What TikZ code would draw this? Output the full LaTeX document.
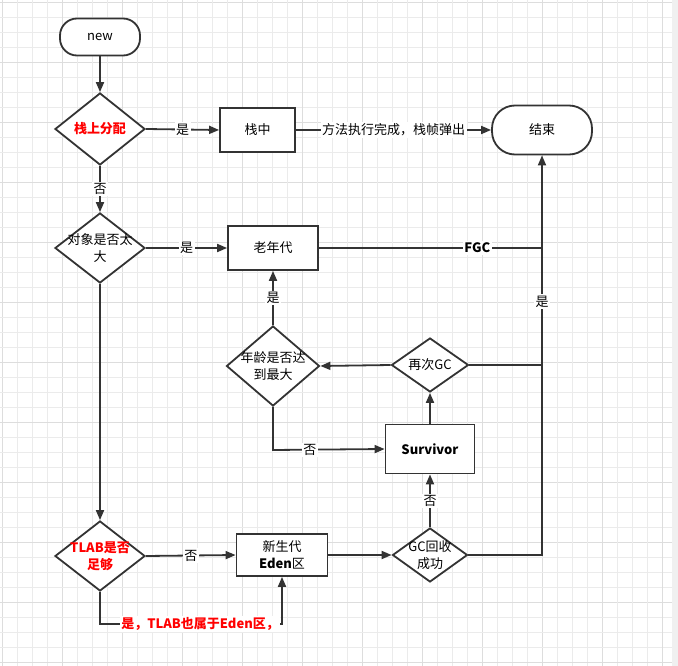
\documentclass[tikz,border=0pt]{standalone}
\usepackage{fontspec}
\setmainfont{Noto Sans CJK SC}
\usetikzlibrary{shapes.geometric,arrows.meta}
\definecolor{lc}{HTML}{333333}
\definecolor{gridc}{HTML}{EBEBEB}
\definecolor{gridd}{HTML}{DDDDDD}
\definecolor{stripc}{HTML}{F0F0F0}
\definecolor{redc}{HTML}{FF0000}
\tikzset{
  fs/.style={font=\fontsize{13}{17}\selectfont},
  shapebase/.style={draw=lc, line width=1.8pt, fill=white, fs, text=black, align=center},
  term/.style={shapebase, rectangle, rounded corners=17pt, minimum width=80pt, minimum height=37pt, inner sep=0pt},
  boxnode/.style 2 args={shapebase, rectangle, minimum width=#1pt, minimum height=#2pt, inner sep=0pt},
  dec/.style 2 args={shapebase, diamond, minimum width=#1pt, minimum height=#2pt, inner sep=0pt},
  conn/.style={draw=lc, line width=1.8pt},
  arr/.style={conn, -{Triangle[length=10pt,width=8pt]}},
  lab/.style={fill=white, inner sep=1.5pt, text=black, fs},
  redlab/.style={fill=white, inner sep=1.5pt, text=redc, fs, font=\bfseries\fontsize{13}{17}\selectfont},
  dtext/.style={align=center, fs, text=black},
  rtext/.style={align=center, text=redc, font=\bfseries\fontsize{13}{17}\selectfont}
}
\begin{document}
\begin{tikzpicture}[x=1pt,y=-1pt]
\useasboundingbox (0,0) rectangle (678,666);
\fill[white] (0,0) rectangle (678,666);
% grid
\foreach \i in {0,...,44} {
  \pgfmathsetmacro{\gx}{2.3+15*\i}
  \pgfmathtruncatemacro{\m}{mod(\i,4)}
  \ifnum\m=0
    \draw[gridd, line width=1pt] (\gx,0) -- (\gx,666);
    \draw[gridd, line width=1pt] (0,\gx) -- (671.5,\gx);
  \else
    \draw[gridc, line width=0.8pt] (\gx,0) -- (\gx,666);
    \draw[gridc, line width=0.8pt] (0,\gx) -- (671.5,\gx);
  \fi
}
\fill[stripc] (671.5,0) rectangle (678,666);

% nodes
\node[term] (new) at (100,37) {new};
\node[dec={90}{72}, label={[rtext]center:栈上分配}] (d1) at (100,129) {};
\node[boxnode={75}{44}] (stack) at (257.5,130) {栈中};
\node[term, minimum width=100pt, minimum height=49pt, rounded corners=23pt] (end) at (542,130) {结束};
\node[dec={90}{70}, label={[dtext]center:对象是否太\\大}] (d2) at (100,248) {};
\node[boxnode={90}{44}] (old) at (273,248) {老年代};
\node[dec={93}{80}, label={[dtext]center:年龄是否达\\到最大}] (age) at (273,366) {};
\node[dec={77}{54}, label={[dtext]center:再次GC}] (again) at (430,365) {};
\node[boxnode={89}{49}, font=\bfseries\fontsize{13}{17}\selectfont] (surv) at (430,449) {Survivor};
\node[dec={90}{70}, label={[rtext]center:TLAB是否\\足够}] (tlab) at (100,556) {};
\node[boxnode={91}{42}] (eden) at (282,555) {新生代\\\textbf{Eden}区};
\node[dec={75}{54}, label={[dtext]center:GC回收\\成功}] (gc) at (430,555) {};

% junction coordinates
\coordinate (j1) at (542,248);
\coordinate (j2) at (542,365);
\coordinate (j3) at (542,555);
\coordinate (c1) at (100,624);
\coordinate (c2) at (282,624);
\coordinate (c3) at (273,450);

% connectors
\draw[arr] (new) -- (d1);
\draw[arr] (d1.east) -- node[lab]{是} (stack.west);
\draw[arr] (stack.east) -- node[lab]{方法执行完成，栈帧弹出} (end.west);
\draw[arr] (d1.south) -- node[lab]{否} (d2.north);
\draw[arr] (d2.east) -- node[lab]{是} (old.west);
\draw[conn] (old.east) -- node[lab, pos=0.71, font=\bfseries\fontsize{13}{17}\selectfont]{FGC} (j1);
\draw[arr] (d2.south) -- (tlab.north);
\draw[arr] (tlab.east) -- node[lab]{否} (eden.west);
\draw[arr] (tlab.south) -- (c1) -- node[redlab, pos=0.55]{是，TLAB也属于Eden区，} (c2) -- (eden.south);
\draw[arr] (eden.east) -- (gc.west);
\draw[arr] (gc.north) -- node[lab]{否} (surv.south);
\draw[arr] (gc.east) -- (j3) -- node[lab, pos=0.634]{是} (end.south);
\draw[arr] (surv.north) -- (again.south);
\draw[arr] (again.west) -- (age.east);
\draw[conn] (again.east) -- (j2);
\draw[arr] (age.north) -- node[lab]{是} (old.south);
\draw[arr] (age.south) -- (c3) -- node[lab, pos=0.33]{否} (surv.west);
\end{tikzpicture}
\end{document}
